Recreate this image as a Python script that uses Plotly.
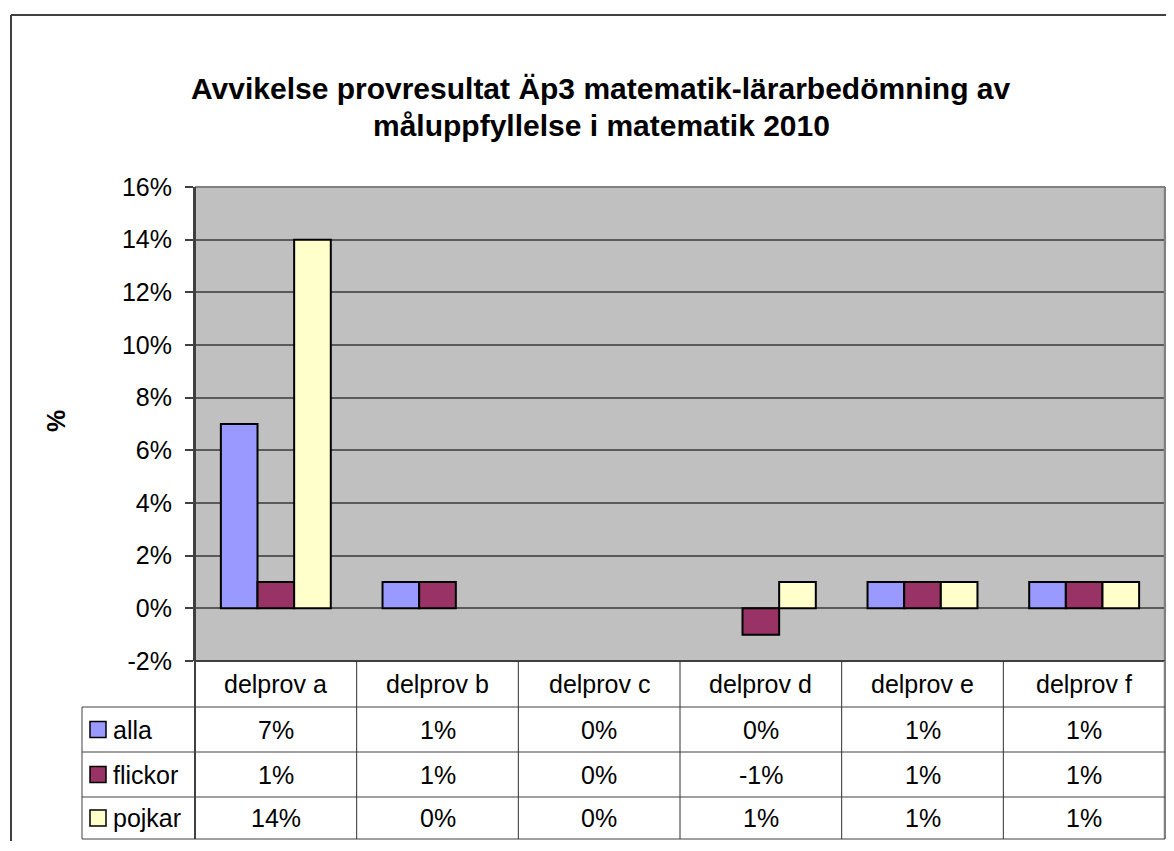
import plotly.graph_objects as go

categories = ["delprov a", "delprov b", "delprov c", "delprov d", "delprov e", "delprov f"]
series_names = ["alla", "flickor", "pojkar"]
alla = [7, 1, 0, 0, 1, 1]
flickor = [1, 1, 0, -1, 1, 1]
pojkar = [14, 0, 0, 1, 1, 1]
colors = ["#9999FF", "#993366", "#FFFFCC"]
y_ticks = [-2, 0, 2, 4, 6, 8, 10, 12, 14, 16]

title_lines = ["Avvikelse provresultat Äp3 matematik-lärarbedömning av",
               "måluppfyllelse i matematik 2010"]

OFF = 8  # page body margin
W, H = 1158, 833
L, R, T, B = 195, 1165, 187, 661  # screen coordinates of plot area
PW, PH = R - L, B - T
FONT = "Liberation Sans, Arial, sans-serif"
FS = 25


def px(x):
    return (x - L) / PW


def py(y):
    return (B - y) / PH


series = [alla, flickor, pojkar]
fig = go.Figure()
for name, vals, col in zip(series_names, series, colors):
    fig.add_trace(go.Bar(x=categories, y=vals, name=name,
                         marker=dict(color=col,
                                     line=dict(color="black", width=[0 if v == 0 else 2 for v in vals]))))

shapes = []
annotations = []

# outer chart border (left and top visible)
shapes.append(dict(type="line", xref="paper", yref="paper", x0=px(11), x1=px(1190), y0=py(15), y1=py(15),
                   line=dict(color="#404040", width=2)))
shapes.append(dict(type="line", xref="paper", yref="paper", x0=px(11), x1=px(11), y0=py(15), y1=py(870),
                   line=dict(color="#404040", width=2)))

# plot area border
shapes.append(dict(type="line", xref="paper", yref="paper", x0=0, x1=1, y0=1, y1=1,
                   line=dict(color="#808080", width=2)))
shapes.append(dict(type="line", xref="paper", yref="paper", x0=1, x1=1, y0=0, y1=1,
                   line=dict(color="#808080", width=2.5)))

# table geometry
header_bottom = 707
row_bounds = [707, 752, 797, 839]
legend_left = 82

shapes.append(dict(type="line", xref="paper", yref="paper", x0=0, x1=0, y0=1, y1=py(row_bounds[-1]),
                   line=dict(color="#404040", width=2)))
shapes.append(dict(type="line", xref="paper", yref="paper", x0=0, x1=1, y0=0, y1=0,
                   line=dict(color="#404040", width=2)))
shapes.append(dict(type="line", xref="paper", yref="paper", x0=1, x1=1, y0=0, y1=py(row_bounds[-1]),
                   line=dict(color="#808080", width=2.5)))
for yb in row_bounds:
    shapes.append(dict(type="line", xref="paper", yref="paper", x0=px(legend_left), x1=1,
                       y0=py(yb), y1=py(yb), line=dict(color="#404040", width=1)))
shapes.append(dict(type="line", xref="paper", yref="paper", x0=px(legend_left), x1=px(legend_left),
                   y0=py(row_bounds[0]), y1=py(row_bounds[-1]), line=dict(color="#404040", width=1)))
for i in range(1, len(categories)):
    shapes.append(dict(type="line", xref="x", yref="paper", x0=i - 0.5, x1=i - 0.5,
                       y0=0, y1=py(row_bounds[-1]), line=dict(color="#303030", width=1)))

for i, c in enumerate(categories):
    annotations.append(dict(x=i, y=py((B + header_bottom) / 2), xref="x", yref="paper", text=c,
                            xanchor="center", yanchor="middle",
                            showarrow=False, font=dict(size=FS, color="black", family=FONT)))

for r, (name, vals, col) in enumerate(zip(series_names, series, colors)):
    yc = (row_bounds[r] + row_bounds[r + 1]) / 2
    shapes.append(dict(type="rect", xref="paper", yref="paper", x0=px(90), x1=px(106),
                       y0=py(yc - 8), y1=py(yc + 8), fillcolor=col, line=dict(color="black", width=1.5)))
    annotations.append(dict(x=px(111), y=py(yc), xref="paper", yref="paper", text=name,
                            xanchor="left", yanchor="middle",
                            showarrow=False, font=dict(size=FS, color="black", family=FONT)))
    for i, v in enumerate(vals):
        annotations.append(dict(x=i, y=py(yc), xref="x", yref="paper", text=f"{v}%",
                                xanchor="center", yanchor="middle",
                                showarrow=False, font=dict(size=FS, color="black", family=FONT)))

for k, line in enumerate(title_lines):
    annotations.append(dict(x=px(601), y=py(88 + 37 * k), xref="paper", yref="paper",
                            text=f"<b>{line}</b>", showarrow=False, xanchor="center", yanchor="middle",
                            font=dict(size=30, color="black", family=FONT)))

annotations.append(dict(x=px(56), y=py(421), xref="paper", yref="paper", text="<b>%</b>",
                        xanchor="center", yanchor="middle",
                        textangle=-90, showarrow=False, font=dict(size=FS, color="black", family=FONT)))

fig.update_layout(
    width=W, height=H,
    margin=dict(l=L - OFF, r=W - (R - OFF), t=T - OFF, b=H - (B - OFF), pad=0),
    paper_bgcolor="white",
    plot_bgcolor="#C0C0C0",
    barmode="group",
    bargap=0.32,
    bargroupgap=0,
    showlegend=False,
    shapes=shapes,
    annotations=annotations,
    font=dict(family=FONT, color="black"),
)
fig.update_xaxes(range=[-0.5, len(categories) - 0.5], showticklabels=False, showgrid=False,
                 zeroline=False, showline=False, ticks="")
fig.update_yaxes(range=[-2, 16], tickvals=y_ticks, ticktext=[f"{t}%" for t in y_ticks],
                 showgrid=True, gridcolor="#5a5a5a", gridwidth=1.5,
                 zeroline=True, zerolinecolor="#5a5a5a", zerolinewidth=1.5,
                 showline=True, linecolor="#404040", linewidth=2,
                 ticks="outside", ticklen=8, tickcolor="#404040", tickwidth=1.5,
                 ticklabelstandoff=8,
                 tickfont=dict(size=FS, color="black", family=FONT))

fig.write_html("out.html")
